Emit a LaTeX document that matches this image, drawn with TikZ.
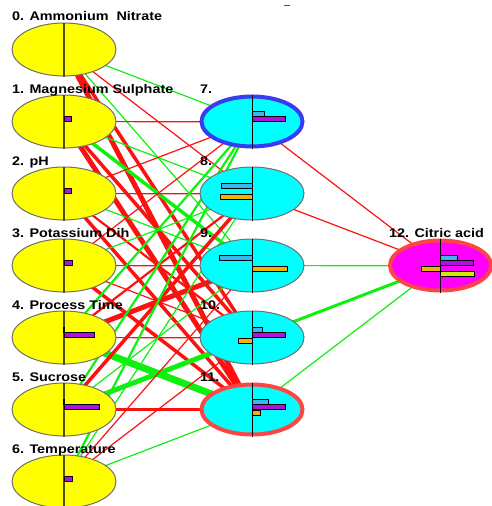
\documentclass[tikz,border=0pt]{standalone}
\usepackage{tikz}
\usepackage{xcolor}
\usepackage{fontspec}
\usetikzlibrary{shapes.geometric,backgrounds}
\newfontfamily\lblfont{Liberation Sans}[FakeStretch=1.15]
\definecolor{nyellow}{HTML}{FFFF00}
\definecolor{ncyan}{HTML}{00FFFF}
\definecolor{nmagenta}{HTML}{FF00FF}
\definecolor{nborder}{HTML}{6e6e6e}
\definecolor{nblue}{HTML}{3a3af0}
\definecolor{nred}{HTML}{FF4444}
\definecolor{naxis}{HTML}{505000}
\definecolor{ered}{HTML}{FF1010}
\definecolor{egreen}{HTML}{10F010}
\definecolor{bcyan}{HTML}{38B8EC}
\definecolor{bpurple}{HTML}{B010E0}
\definecolor{borange}{HTML}{ECB400}
\definecolor{bygreen}{HTML}{CCEE00}
\tikzset{
	inp/.style={ellipse, draw=nborder, fill=nyellow, line width=1pt, minimum width=104pt, minimum height=53pt, inner sep=0pt},
	hid/.style={ellipse, draw=nborder, fill=ncyan, line width=1pt, minimum width=104pt, minimum height=53pt, inner sep=0pt},
	ring/.style={line width=4pt, minimum width=101pt, minimum height=50pt},
	lbl/.style={font=\lblfont\bfseries\fontsize{12.5}{14}\selectfont, inner sep=0pt, anchor=base west},
	exc/.style={draw=egreen},
	inh/.style={draw=ered},
	w1/.style={line width=1.2pt},
	w2/.style={line width=2.2pt},
	w3/.style={line width=3.5pt},
	w4/.style={line width=5pt},
	w5/.style={line width=7pt},
	barline/.style={draw=black, line width=0.8pt},
}
\begin{document}
\begin{tikzpicture}[x=1pt, y=-1pt]
		\useasboundingbox (0,0) rectangle (492,506);
		% input layer
		\node[inp] (i0) at (64,49.5) {};
		\node[inp] (i1) at (64,121.5) {};
		\node[inp] (i2) at (64,193.5) {};
		\node[inp] (i3) at (64,265.5) {};
		\node[inp] (i4) at (64,337.5) {};
		\node[inp] (i5) at (64,409.5) {};
		\node[inp] (i6) at (64,481.5) {};
		% hidden layer
		\node[hid, ring, draw=nblue] (h7) at (252,121.5) {};
		\node[hid] (h8) at (252,193.5) {};
		\node[hid] (h9) at (252,265.5) {};
		\node[hid] (h10) at (252,337.5) {};
		\node[hid, ring, draw=nred] (h11) at (252,409.5) {};
		% output
		\node[hid, ring, draw=nred, fill=nmagenta] (o12) at (440.5,265.5) {};
		% weights
		\begin{scope}[on background layer]
		\draw[exc,w1] (i0.center) -- (h7.center);
		\draw[inh,w1] (i0.center) -- (h8.center);
		\draw[exc,w1] (i0.center) -- (h9.center);
		\draw[inh,w3] (i0.center) -- (h10.center);
		\draw[inh,w4] (i0.center) -- (h11.center);
		\draw[inh,w1] (i1.center) -- ([yshift=-0.4pt]h7.center);
		\draw[exc,w1] (i1.center) -- (h8.center);
		\draw[exc,w3] (i1.center) -- (h9.center);
		\draw[inh,w3] (i1.center) -- (h10.center);
		\draw[inh,w4] (i1.center) -- (h11.center);
		\draw[inh,w1] (i2.center) -- (h7.center);
		\draw[inh,w1] (i2.center) -- ([yshift=-0.4pt]h8.center);
		\draw[exc,w1] (i2.center) -- (h9.center);
		\draw[inh,w2] (i2.center) -- (h10.center);
		\draw[inh,w3] (i2.center) -- (h11.center);
		\draw[inh,w1] (i3.center) -- (h7.center);
		\draw[exc,w1] (i3.center) -- (h8.center);
		\draw[inh,w1] (i3.center) -- ([yshift=-0.4pt]h9.center);
		\draw[inh,w1] (i3.center) -- (h10.center);
		\draw[inh,w3] (i3.center) -- (h11.center);
		\draw[exc,w2] (i4.center) -- (h7.center);
		\draw[inh,w2] (i4.center) -- (h8.center);
		\draw[inh,w4] (i4.center) -- (h9.center);
		\draw[inh,w1] (i4.center) -- ([yshift=-0.4pt]h10.center);
		\draw[exc,w5] (i4.center) -- (h11.center);
		\draw[exc,w2] (i5.center) -- (h7.center);
		\draw[inh,w3] (i5.center) -- (h8.center);
		\draw[exc,w1] (i5.center) -- (h9.center);
		\draw[exc,w4] (i5.center) -- (h10.center);
		\draw[inh,w2] (i5.center) -- (h11.center);
		\draw[exc,w2] (i6.center) -- (h7.center);
		\draw[exc,w1] (i6.center) -- (h8.center);
		\draw[inh,w1] (i6.center) -- (h9.center);
		\draw[inh,w1] (i6.center) -- (h10.center);
		\draw[exc,w1] (i6.center) -- (h11.center);
		\draw[inh,w1] (h7.center) -- (o12.center);
		\draw[inh,w1] (h8.center) -- (o12.center);
		\draw[exc,w1] (h9.center) -- ([yshift=-0.4pt]o12.center);
		\draw[exc,line width=3pt] (h10.center) -- (o12.center);
		\draw[exc,w1] (h11.center) -- (o12.center);
		\end{scope}
		% centre lines
		\draw[naxis, line width=1.3pt] (i0.north) -- (i0.south);
		\draw[naxis, line width=1.3pt] (i1.north) -- (i1.south);
		\draw[naxis, line width=1.3pt] (i2.north) -- (i2.south);
		\draw[naxis, line width=1.3pt] (i3.north) -- (i3.south);
		\draw[naxis, line width=1.3pt] (i4.north) -- (i4.south);
		\draw[naxis, line width=1.3pt] (i5.north) -- (i5.south);
		\draw[naxis, line width=1.3pt] (i6.north) -- (i6.south);
		\draw[black, line width=1pt] (h7.north) -- (h7.south);
		\draw[black, line width=1pt] (h8.north) -- (h8.south);
		\draw[black, line width=1pt] (h9.north) -- (h9.south);
		\draw[black, line width=1pt] (h10.north) -- (h10.south);
		\draw[black, line width=1pt] (h11.north) -- (h11.south);
		\draw[black, line width=1pt] (o12.north) -- (o12.south);
		% bars
		\draw[barline, fill=bpurple] ([shift={(0,-5)}]i1.center) rectangle ++(7,5);
		\draw[barline, fill=bpurple] ([shift={(0,-5)}]i2.center) rectangle ++(7,5);
		\draw[barline, fill=bpurple] ([shift={(0,-5)}]i3.center) rectangle ++(8,5);
		\draw[black, line width=1.5pt] ([shift={(0,-11)}]i4.center) -- ++(0,6);
		\draw[barline, fill=bpurple] ([shift={(0,-5)}]i4.center) rectangle ++(30,5);
		\draw[black, line width=1.5pt] ([shift={(0,-11)}]i5.center) -- ++(0,6);
		\draw[barline, fill=bpurple] ([shift={(0,-5)}]i5.center) rectangle ++(35,5);
		\draw[barline, fill=bpurple] ([shift={(0,-5)}]i6.center) rectangle ++(8,5);
		\draw[barline, fill=bcyan] ([shift={(0,-10)}]h7.center) rectangle ++(12,5);
		\draw[barline, fill=bpurple] ([shift={(0,-5)}]h7.center) rectangle ++(33,5);
		\draw[barline, fill=bcyan] ([shift={(0,-10)}]h8.center) rectangle ++(-31,5);
		\draw[barline, fill=borange] ([shift={(0,0.5)}]h8.center) rectangle ++(-32,5);
		\draw[barline, fill=bcyan] ([shift={(0,-10)}]h9.center) rectangle ++(-33,5);
		\draw[barline, fill=borange] ([shift={(0,0.5)}]h9.center) rectangle ++(35,5);
		\draw[barline, fill=bcyan] ([shift={(0,-10)}]h10.center) rectangle ++(10,5);
		\draw[barline, fill=bpurple] ([shift={(0,-5)}]h10.center) rectangle ++(33,5);
		\draw[barline, fill=borange] ([shift={(0,0.5)}]h10.center) rectangle ++(-14,5);
		\draw[barline, fill=bcyan] ([shift={(0,-10)}]h11.center) rectangle ++(16,5);
		\draw[barline, fill=bpurple] ([shift={(0,-5)}]h11.center) rectangle ++(33,5);
		\draw[barline, fill=borange] ([shift={(0,0.5)}]h11.center) rectangle ++(8,5);
		\draw[barline, fill=bcyan] ([shift={(0,-10.5)}]o12.center) rectangle ++(17,5);
		\draw[barline, fill=bpurple] ([shift={(0,-5)}]o12.center) rectangle ++(33,5);
		\draw[barline, fill=borange] ([shift={(0,0.5)}]o12.center) rectangle ++(-19,5);
		\draw[barline, fill=bygreen] ([shift={(0,6)}]o12.center) rectangle ++(34,5);
		% labels
		\node[lbl] (l0) at (12,20.5) {0. Ammonium\ \ Nitrate};
		\node[lbl] (l1) at (12,93) {1. Magnesium Sulphate};
		\node[lbl] (l2) at (12,165) {2. pH};
		\node[lbl] (l3) at (12,237) {3. Potassium Dih};
		\node[lbl] (l4) at (12,309) {4. Process Time};
		\node[lbl] (l5) at (12,381) {5. Sucrose};
		\node[lbl] (l6) at (12,453) {6. Temperature};
		\node[lbl] (l7) at (200,93) {7.};
		\node[lbl] (l8) at (200,165) {8.};
		\node[lbl] (l9) at (200,237) {9.};
		\node[lbl] (l10) at (200,309) {10.};
		\node[lbl] (l11) at (200,381) {11.};
		\node[lbl] (l12) at (389,237) {12. Citric acid};
		\draw[nblue, line width=1pt] (284,5) -- (290,5);
	\end{tikzpicture}
\end{document}
